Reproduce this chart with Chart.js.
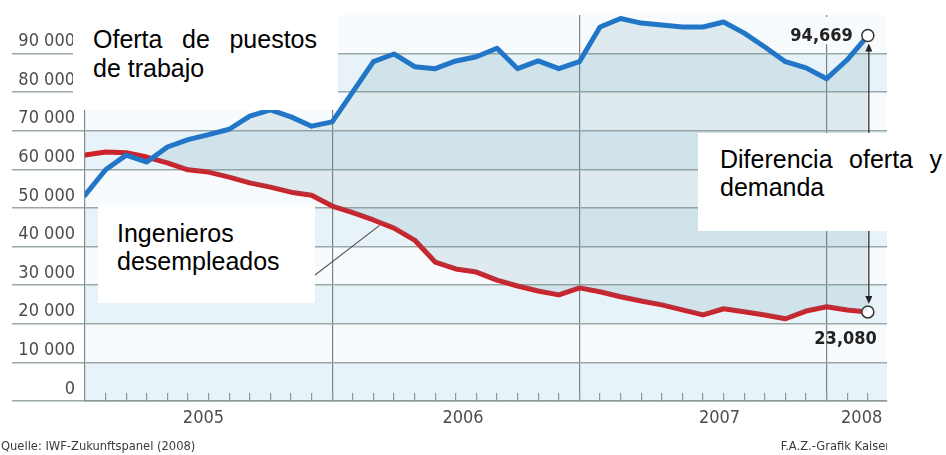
<!DOCTYPE html>
<html>
<head>
<meta charset="utf-8">
<script src="https://cdn.jsdelivr.net/npm/chart.js@4.4.1/dist/chart.umd.min.js"></script>
<style>
body{margin:0;background:#fff}
#wrap{position:relative;width:946px;height:455px;overflow:hidden;background:#fff}
canvas{position:absolute;left:0;top:0}
.box{position:absolute;background:#fff}
.t{position:absolute;font-family:"Liberation Sans",Arial,sans-serif;font-size:25px;line-height:29px;color:#000;white-space:nowrap}
.j{text-align:justify;text-align-last:justify;white-space:normal}
.src{position:absolute;font-family:"Liberation Sans Narrow","Arial Narrow","DejaVu Sans Condensed",sans-serif;font-size:12.8px;color:#3a3a3a;line-height:16px;white-space:nowrap}
</style>
</head>
<body>
<div id="wrap">
<canvas id="c" width="946" height="455"></canvas>
<div class="box" style="left:73px;top:0;width:265px;height:110px"></div>
<div class="t j" style="left:93px;top:25px;width:224px">Oferta de puestos</div>
<div class="t" style="left:93px;top:54px">de trabajo</div>
<div class="box" style="left:98px;top:205px;width:217px;height:98px"></div>
<div class="t" style="left:117px;top:219px">Ingenieros</div>
<div class="t" style="left:117px;top:247px">desempleados</div>
<div class="box" style="left:698px;top:133px;width:248px;height:98px"></div>
<div class="t j" style="left:720px;top:145px;width:222px">Diferencia oferta y</div>
<div class="t" style="left:720px;top:173px">demanda</div>
<div class="src" style="left:1px;top:438px">Quelle: IWF-Zukunftspanel (2008)</div>
<div style="position:absolute;left:700px;top:438px;width:187px;height:18px;overflow:hidden">
  <div class="src" style="right:-3px;top:0">F.A.Z.-Grafik Kaiser</div>
</div>
</div>
<script>
const months = ['2005-01','2005-02','2005-03','2005-04','2005-05','2005-06','2005-07','2005-08','2005-09','2005-10','2005-11','2005-12',
  '2006-01','2006-02','2006-03','2006-04','2006-05','2006-06','2006-07','2006-08','2006-09','2006-10','2006-11','2006-12',
  '2007-01','2007-02','2007-03','2007-04','2007-05','2007-06','2007-07','2007-08','2007-09','2007-10','2007-11','2007-12',
  '2008-01','2008-02','2008-03'];
const ofertaPuestos = [53300,59900,63700,61900,65800,67700,69000,70400,73800,75400,73600,71200,
  72300,80100,87900,89900,86600,86100,88100,89200,91400,86100,88100,86100,
  87900,96900,99100,97900,97400,96900,96900,98200,95300,91700,87900,86300,
  83500,88400,94669];
const ingenierosDesempleados = [63700,64500,64300,63200,61700,59900,59300,58000,56500,55400,54100,53300,
  50500,48800,46900,44800,41700,36000,34200,33400,31300,29800,28500,27500,
  29300,28300,27000,25900,24900,23600,22300,23900,23100,22300,21300,23300,
  24400,23600,23080];
const yTickLabels = ['0','10 000','20 000','30 000','40 000','50 000','60 000','70 000','80 000','90 000'];
const yearLabels = ['2005','2006','2007','2008'];

const NARROW = '"Liberation Sans Narrow","Arial Narrow","DejaVu Sans Condensed",sans-serif';
const yearLabelMonth = [5.75, 18.35, 30.8, 37.7];
const fmt = n => n.toLocaleString('en-US');

const bandPlugin = {
  id: 'bands',
  beforeDraw(chart) {
    const {ctx, chartArea: a, scales: {y}} = chart;
    ctx.save();
    for (let k = 0; k < 10; k++) {
      const top = y.getPixelForValue((k + 1) * 10000), bot = y.getPixelForValue(k * 10000);
      ctx.fillStyle = k % 2 === 0 ? '#e7f3f8' : '#f8fbfd';
      ctx.fillRect(a.left, top, a.right - a.left, bot - top);
    }
    ctx.restore();
  }
};

const annotPlugin = {
  id: 'annot',
  afterDatasetsDraw(chart) {
    const {ctx, scales: {x, y}} = chart;
    const mb = chart.getDatasetMeta(0).data, mr = chart.getDatasetMeta(1).data;
    const pb = mb[mb.length - 1], pr = mr[mr.length - 1];
    ctx.save();
    ctx.fillStyle = '#f8fbfd';
    ctx.fillRect(pb.x - 78, y.getPixelForValue(100000) + 2, 68, 27);
    const ax = pb.x + 1;
    const y1 = pb.y + 8, y2 = pr.y - 8;
    ctx.strokeStyle = '#222'; ctx.fillStyle = '#222'; ctx.lineWidth = 1.2;
    ctx.beginPath(); ctx.moveTo(ax, y1 + 6); ctx.lineTo(ax, y2 - 6); ctx.stroke();
    ctx.beginPath(); ctx.moveTo(ax, y1); ctx.lineTo(ax - 3.5, y1 + 8); ctx.lineTo(ax + 3.5, y1 + 8); ctx.closePath(); ctx.fill();
    ctx.beginPath(); ctx.moveTo(ax, y2); ctx.lineTo(ax - 3.5, y2 - 8); ctx.lineTo(ax + 3.5, y2 - 8); ctx.closePath(); ctx.fill();
    const xv = 14.3;
    const yv = ingenierosDesempleados[14] + (ingenierosDesempleados[15] - ingenierosDesempleados[14]) * 0.3;
    const ex = x.getPixelForValue(xv), ey = y.getPixelForValue(yv) + 3;
    ctx.strokeStyle = '#555'; ctx.lineWidth = 1.2;
    ctx.beginPath(); ctx.moveTo(ex - 85, ey + 85 * 0.77); ctx.lineTo(ex, ey); ctx.stroke();
    ctx.font = 'bold 18px ' + NARROW;
    ctx.fillStyle = '#222'; ctx.textAlign = 'right'; ctx.textBaseline = 'middle';
    ctx.fillText(fmt(ofertaPuestos[ofertaPuestos.length - 1]), pb.x - 15, pb.y + 1);
    ctx.fillText(fmt(ingenierosDesempleados[ingenierosDesempleados.length - 1]), pb.x + 9, pr.y + 27);
    ctx.restore();
  }
};

const lastIdx = months.length - 1;
const endPoint = ctx => ctx.dataIndex === lastIdx ? 6 : 0;

new Chart(document.getElementById('c'), {
  type: 'line',
  data: {
    datasets: [
      {
        label: 'Oferta de puestos de trabajo',
        data: months.map((m, i) => ({x: i, y: ofertaPuestos[i]})),
        borderColor: '#2176c8', borderWidth: 5, borderJoinStyle: 'round', borderCapStyle: 'round',
        fill: {target: '+1', above: 'rgba(80,140,160,0.15)', below: 'rgba(0,0,0,0)'},
        pointRadius: endPoint, pointBackgroundColor: '#fff', pointBorderColor: '#333', pointBorderWidth: 1.5,
        tension: 0
      },
      {
        label: 'Ingenieros desempleados',
        data: months.map((m, i) => ({x: i, y: ingenierosDesempleados[i]})),
        borderColor: '#cc2229', borderWidth: 5, borderJoinStyle: 'round', borderCapStyle: 'round',
        fill: false,
        pointRadius: endPoint, pointBackgroundColor: '#fff', pointBorderColor: '#333', pointBorderWidth: 1.5,
        tension: 0
      }
    ]
  },
  options: {
    responsive: false, animation: false, events: [],
    layout: {padding: {left: 12, top: 15, right: 59, bottom: 0}},
    plugins: {legend: {display: false}, tooltip: {enabled: false}},
    scales: {
      x: {
        type: 'linear', min: 0, max: 38.93,
        afterBuildTicks(scale) {
          const t = months.map((m, i) => ({value: i}));
          yearLabelMonth.forEach(v => t.push({value: v}));
          scale.ticks = t;
        },
        afterFit(scale) { scale.height = 54; },
        ticks: {
          autoSkip: false, maxRotation: 0, padding: 15, color: '#4d4d4d',
          font: {family: NARROW, size: 18},
          callback: (v) => { const k = yearLabelMonth.indexOf(v); return k >= 0 ? yearLabels[k] : ''; }
        },
        grid: {
          drawOnChartArea: true, drawTicks: true, tickLength: -8,
          color: c => (c.tick && [12, 24, 36].includes(c.tick.value)) ? '#788585' : 'rgba(0,0,0,0)',
          tickColor: c => (c.tick && Number.isInteger(c.tick.value) && c.tick.value > 0) ? '#8d9999' : 'rgba(0,0,0,0)',
          lineWidth: 1.2, tickWidth: 1.2
        },
        border: {display: true, color: '#8f9a9a', width: 1.5}
      },
      y: {
        min: 0, max: 100000,
        afterFit(scale) { scale.width = 73; },
        ticks: {
          stepSize: 10000, padding: -63, labelOffset: -12, color: '#4d4d4d',
          font: {family: NARROW, size: 18},
          callback: v => v >= 100000 ? null : yTickLabels[Math.round(v / 10000)]
        },
        grid: {
          tickLength: 73,
          color: c => (c.tick && c.tick.value === 100000) ? '#c5cdcd' : '#9ca8a8',
          lineWidth: 1.6
        },
        border: {display: true, color: '#7f8c8c', width: 1.2}
      }
    }
  },
  plugins: [bandPlugin, annotPlugin]
});
</script>
</body>
</html>
